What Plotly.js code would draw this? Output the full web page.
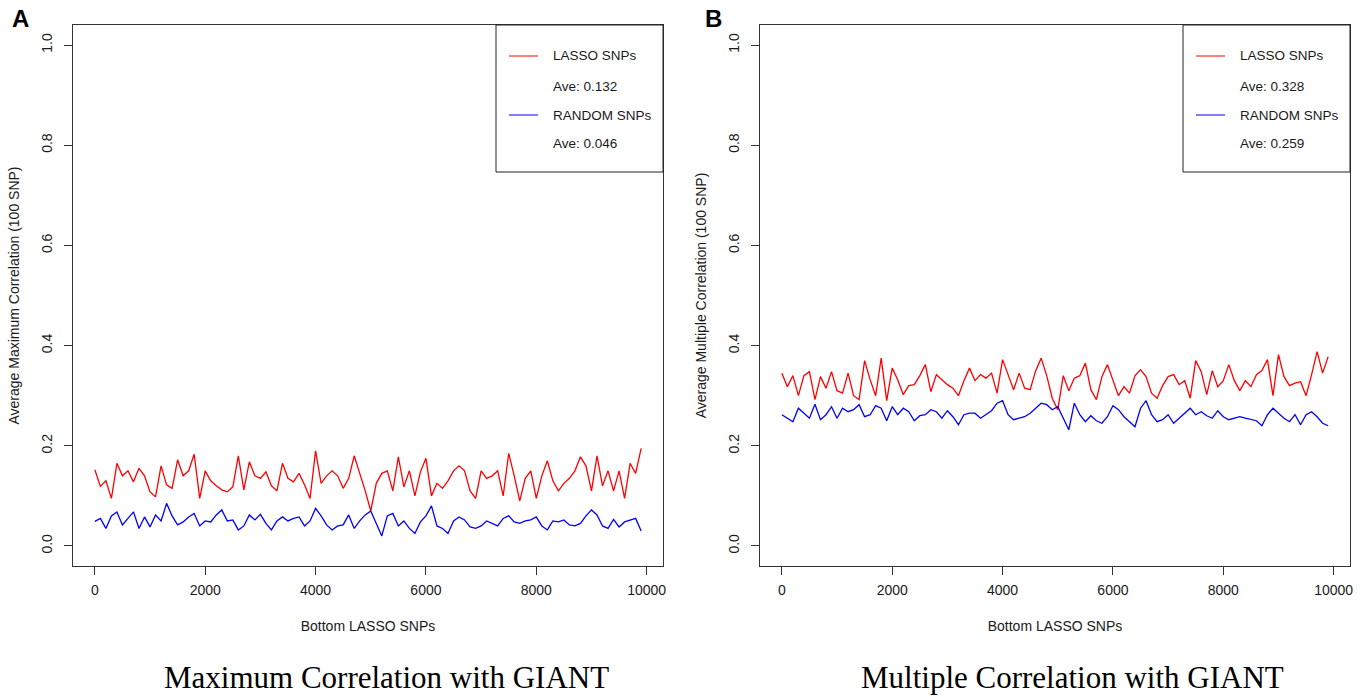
<!DOCTYPE html>
<html><head><meta charset="utf-8">
<script src="https://cdn.plot.ly/plotly-3.0.1.min.js"></script>
<style>html,body{margin:0;padding:0;background:#fff}#chart{width:1367px;height:697px}</style>
</head><body><div id="chart"></div>
<script>
// ---- data ----
const snpIndex = [0,100,200,300,400,500,600,700,800,900,1000,1100,1200,1300,1400,1500,1600,1700,1800,1900,
2000,2100,2200,2300,2400,2500,2600,2700,2800,2900,3000,3100,3200,3300,3400,3500,3600,3700,3800,3900,
4000,4100,4200,4300,4400,4500,4600,4700,4800,4900,5000,5100,5200,5300,5400,5500,5600,5700,5800,5900,
6000,6100,6200,6300,6400,6500,6600,6700,6800,6900,7000,7100,7200,7300,7400,7500,7600,7700,7800,7900,
8000,8100,8200,8300,8400,8500,8600,8700,8800,8900,9000,9100,9200,9300,9400,9500,9600,9700,9800,9900];

const maxLasso = [0.152,0.119,0.130,0.095,0.165,0.140,0.150,0.128,0.155,0.140,0.108,0.098,0.160,0.122,0.115,0.172,0.140,0.150,0.183,0.095,
0.150,0.130,0.120,0.112,0.108,0.118,0.180,0.112,0.168,0.140,0.135,0.148,0.120,0.110,0.165,0.135,0.128,0.145,0.122,0.095,
0.190,0.125,0.140,0.150,0.140,0.115,0.135,0.180,0.145,0.110,0.070,0.125,0.145,0.150,0.110,0.178,0.118,0.150,0.100,0.148,
0.175,0.100,0.125,0.115,0.130,0.150,0.160,0.150,0.110,0.095,0.150,0.135,0.140,0.150,0.100,0.185,0.140,0.090,0.135,0.150,
0.095,0.140,0.170,0.130,0.110,0.125,0.135,0.150,0.178,0.160,0.110,0.180,0.120,0.150,0.110,0.150,0.095,0.165,0.145,0.195];

const maxRandom = [0.049,0.055,0.035,0.060,0.068,0.042,0.055,0.068,0.035,0.058,0.038,0.062,0.050,0.085,0.060,0.042,0.048,0.058,0.065,0.040,
0.050,0.048,0.062,0.072,0.050,0.052,0.032,0.040,0.062,0.052,0.063,0.045,0.032,0.050,0.058,0.050,0.055,0.058,0.040,0.050,
0.075,0.060,0.042,0.032,0.040,0.042,0.062,0.035,0.050,0.062,0.070,0.045,0.020,0.060,0.065,0.040,0.050,0.035,0.025,0.048,
0.060,0.080,0.040,0.035,0.025,0.050,0.058,0.052,0.038,0.035,0.040,0.050,0.045,0.040,0.055,0.060,0.048,0.045,0.050,0.052,
0.058,0.040,0.032,0.050,0.048,0.052,0.042,0.040,0.045,0.060,0.072,0.062,0.040,0.035,0.053,0.038,0.048,0.052,0.055,0.030];

const multLasso = [0.345,0.318,0.340,0.300,0.340,0.348,0.292,0.338,0.315,0.348,0.310,0.305,0.345,0.300,0.292,0.370,0.332,0.300,0.375,0.290,
0.355,0.332,0.302,0.320,0.322,0.340,0.362,0.308,0.342,0.332,0.322,0.315,0.300,0.330,0.355,0.330,0.342,0.335,0.345,0.305,
0.372,0.342,0.312,0.345,0.315,0.312,0.350,0.375,0.340,0.295,0.272,0.340,0.310,0.335,0.340,0.365,0.312,0.292,0.338,0.362,
0.330,0.300,0.318,0.305,0.340,0.352,0.338,0.305,0.295,0.320,0.338,0.342,0.322,0.330,0.295,0.370,0.348,0.302,0.350,0.318,
0.330,0.362,0.330,0.310,0.330,0.318,0.342,0.350,0.372,0.300,0.382,0.338,0.320,0.325,0.328,0.300,0.342,0.388,0.345,0.378];

const multRandom = [0.262,0.255,0.248,0.275,0.265,0.255,0.283,0.252,0.262,0.278,0.255,0.275,0.268,0.272,0.282,0.258,0.262,0.280,0.275,0.250,
0.278,0.262,0.275,0.268,0.250,0.260,0.262,0.272,0.268,0.255,0.270,0.258,0.242,0.262,0.265,0.265,0.255,0.262,0.270,0.285,
0.290,0.262,0.252,0.255,0.258,0.265,0.275,0.285,0.282,0.272,0.278,0.255,0.232,0.285,0.262,0.248,0.260,0.250,0.245,0.258,
0.280,0.272,0.258,0.248,0.238,0.275,0.290,0.262,0.248,0.252,0.262,0.245,0.255,0.265,0.275,0.262,0.268,0.260,0.255,0.270,
0.258,0.252,0.255,0.258,0.255,0.252,0.250,0.240,0.262,0.275,0.265,0.255,0.248,0.262,0.242,0.262,0.268,0.258,0.245,0.240];

const xTicks = [0,2000,4000,6000,8000,10000];
const yTicks = [0,0.2,0.4,0.6,0.8,1.0];
const seriesNames = ["LASSO SNPs","RANDOM SNPs"];
const aveA = ["Ave: 0.132","Ave: 0.046"];
const aveB = ["Ave: 0.328","Ave: 0.259"];
const panelLetters = ["A","B"];
const panelTitles = ["Maximum Correlation with GIANT","Multiple Correlation with GIANT"];
const yTitles = ["Average Maximum Correlation (100 SNP)","Average Multiple Correlation (100 SNP)"];
const xTitle = "Bottom LASSO SNPs";

// ---- layout helpers ----
const W = 1367, H = 697;
const px = x => x / W;
const py = y => 1 - y / H;
const SANS = "Liberation Sans, Arial, Helvetica, sans-serif";
const SERIF = "Liberation Serif, Times New Roman, serif";
const AX = "#333";
const TXT = "#1a1a1a";

const boxes = [{l:73, r:663, t:25, b:566}, {l:760, r:1350, t:25, b:566}];

function xAxis(b){
  return {domain:[px(b.l), px(b.r)], range:[-396,10296], tickvals:xTicks, ticktext:xTicks.map(String),
    ticks:'outside', ticklen:8, tickwidth:1, tickcolor:AX, showline:true, linecolor:AX, linewidth:1, mirror:true,
    showgrid:false, zeroline:false, fixedrange:true, ticklabelstandoff:3,
    tickfont:{family:SANS, size:14, color:TXT},
    title:{text:xTitle, font:{family:SANS, size:14, color:TXT}, standoff:24}};
}
function yAxis(b, t){
  return {domain:[py(b.b), py(b.t)], range:[-0.04,1.04], tickvals:yTicks, tickformat:'.1f', tickangle:-90,
    ticks:'outside', ticklen:8, tickwidth:1, tickcolor:AX, showline:true, linecolor:AX, linewidth:1, mirror:true,
    showgrid:false, zeroline:false, fixedrange:true, ticklabelstandoff:6,
    tickfont:{family:SANS, size:14, color:TXT},
    title:{text:t, font:{family:SANS, size:14, color:TXT}, standoff:16}};
}

const LW = 1.3;
const traces = [
  {x:snpIndex, y:maxLasso, xaxis:'x', yaxis:'y', mode:'lines', line:{color:'#FF0000', width:LW}, name:seriesNames[0]},
  {x:snpIndex, y:maxRandom, xaxis:'x', yaxis:'y', mode:'lines', line:{color:'#0000FF', width:LW}, name:seriesNames[1]},
  {x:snpIndex, y:multLasso, xaxis:'x2', yaxis:'y2', mode:'lines', line:{color:'#FF0000', width:LW}, name:seriesNames[0]},
  {x:snpIndex, y:multRandom, xaxis:'x2', yaxis:'y2', mode:'lines', line:{color:'#0000FF', width:LW}, name:seriesNames[1]}
];

const shapes = [], annotations = [];
const aves = [aveA, aveB];
boxes.forEach((b, i) => {
  const lx = b.r - 167; // legend left
  shapes.push({type:'rect', xref:'paper', yref:'paper', x0:px(lx), x1:px(b.r), y0:py(172), y1:py(b.t),
    line:{color:'#222', width:1}, fillcolor:'rgba(0,0,0,0)'});
  shapes.push({type:'line', xref:'paper', yref:'paper', x0:px(lx+13), x1:px(lx+42), y0:py(56), y1:py(56), line:{color:'#FF0000', width:1}});
  shapes.push({type:'line', xref:'paper', yref:'paper', x0:px(lx+13), x1:px(lx+42), y0:py(115), y1:py(115), line:{color:'#0000FF', width:1}});
  const rows = [[seriesNames[0],56],[aves[i][0],86],[seriesNames[1],115],[aves[i][1],144]];
  rows.forEach(r => annotations.push({text:r[0], xref:'paper', yref:'paper', x:px(lx+55), y:py(r[1]),
    xanchor:'left', yanchor:'middle', showarrow:false, font:{family:SANS, size:13.5, color:TXT}}));
  annotations.push({text:'<b>'+panelLetters[i]+'</b>', xref:'paper', yref:'paper', x:px(i===0?20:713), y:py(19),
    xanchor:'center', yanchor:'middle', showarrow:false, font:{family:SANS, size:24, color:'#000'}});
  annotations.push({text:panelTitles[i], xref:'paper', yref:'paper', x:px(i===0?386:1072), y:py(677),
    xanchor:'center', yanchor:'middle', showarrow:false, font:{family:SERIF, size:31, color:'#000'}});
});

const layout = {
  width:W, height:H, margin:{l:0, r:0, t:0, b:0}, paper_bgcolor:'#fff', plot_bgcolor:'#fff',
  showlegend:false,
  xaxis:xAxis(boxes[0]), yaxis:yAxis(boxes[0], yTitles[0]),
  xaxis2:Object.assign(xAxis(boxes[1]), {anchor:'y2'}), yaxis2:Object.assign(yAxis(boxes[1], yTitles[1]), {anchor:'x2'}),
  shapes:shapes, annotations:annotations
};
layout.xaxis.anchor = 'y';
layout.yaxis.anchor = 'x';

Plotly.newPlot('chart', traces, layout, {staticPlot:true, displayModeBar:false});
</script>
</body></html>
